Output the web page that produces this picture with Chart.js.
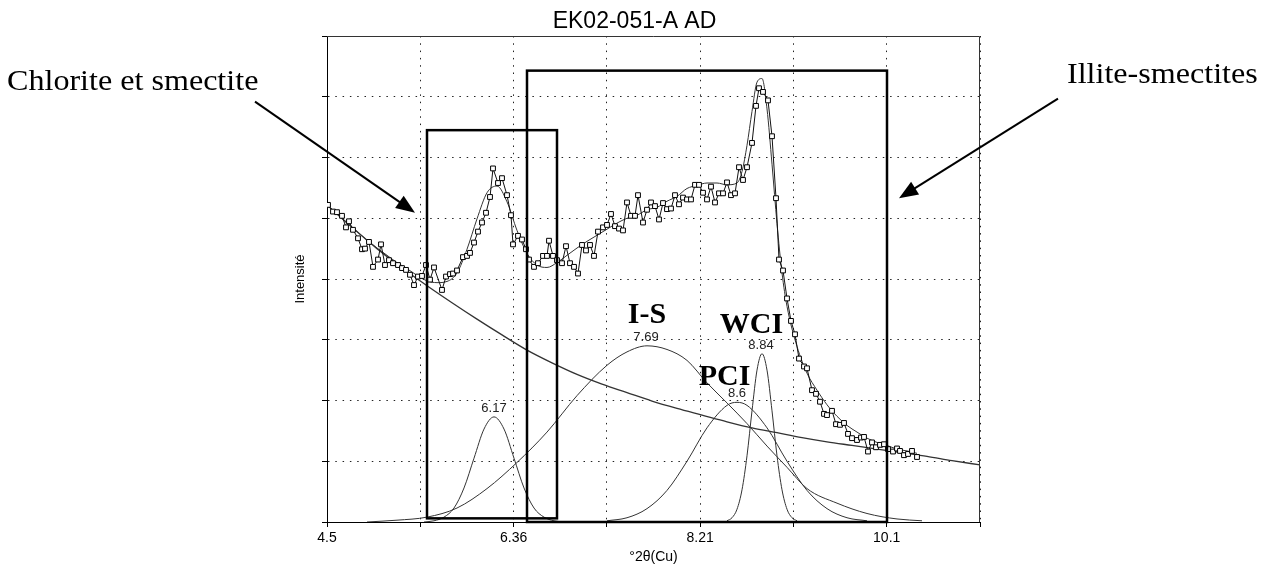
<!DOCTYPE html>
<html>
<head>
<meta charset="utf-8">
<script src="https://cdn.jsdelivr.net/npm/chart.js@4.4.1/dist/chart.umd.min.js"></script>
<style>
  body { margin: 0; background: #fff; }
  canvas { display: block; }
</style>
</head>
<body>
<canvas id="xrdChart" width="1268" height="571"></canvas>
<script>
// ---- axis ticks ----
const xTickValues = [4.5, 5.433, 6.366, 7.299, 8.231, 9.164, 10.097, 11.03];
const xTickLabels = ["4.5", "", "6.36", "", "8.21", "", "10.1", ""];

// ---- measured scan (squares) ----
const scanX = [
    4.51, 4.56, 4.60, 4.65, 4.69, 4.72, 4.76, 4.81, 4.85, 4.88,
    4.92, 4.96, 5.01, 5.04, 5.08, 5.12, 5.16, 5.21, 5.25, 5.29,
    5.33, 5.37, 5.41, 5.45, 5.49, 5.53, 5.57, 5.65, 5.69, 5.73,
    5.76, 5.80, 5.86, 5.90, 5.93, 5.97, 6.01, 6.05, 6.09, 6.13,
    6.16, 6.21, 6.25, 6.30, 6.34, 6.36, 6.41, 6.45, 6.49, 6.52,
    6.57, 6.61, 6.66, 6.70, 6.72, 6.76, 6.80, 6.85, 6.89, 6.93,
    6.97, 7.01, 7.05, 7.09, 7.13, 7.17, 7.21, 7.26, 7.30, 7.34,
    7.38, 7.42, 7.46, 7.50, 7.54, 7.58, 7.61, 7.66, 7.70, 7.74,
    7.78, 7.82, 7.86, 7.90, 7.94, 7.98, 8.02, 8.06, 8.10, 8.14,
    8.18, 8.22, 8.26, 8.30, 8.34, 8.38, 8.42, 8.46, 8.50, 8.54,
    8.58, 8.62, 8.66, 8.70, 8.75, 8.79, 8.82, 8.86, 8.91, 8.95,
    8.99, 9.02, 9.06, 9.10, 9.14, 9.18, 9.22, 9.27, 9.30, 9.35,
    9.39, 9.43, 9.47, 9.50, 9.55, 9.59, 9.63, 9.67, 9.71, 9.75,
    9.80, 9.84, 9.87, 9.91, 9.95, 9.99, 10.03, 10.07, 10.11, 10.16,
    10.20, 10.23, 10.27, 10.31, 10.35, 10.40
];
const scanY = [
    5.22, 5.11, 5.10, 5.04, 4.85, 4.95, 4.81, 4.67, 4.49, 4.50,
    4.61, 4.20, 4.32, 4.57, 4.23, 4.31, 4.26, 4.23, 4.18, 4.15,
    4.07, 3.90, 4.04, 4.05, 4.23, 3.99, 4.19, 3.82, 4.04, 4.08,
    4.09, 4.14, 4.36, 4.38, 4.43, 4.60, 4.78, 4.93, 5.09, 5.35,
    5.82, 5.58, 5.66, 5.38, 5.05, 4.57, 4.71, 4.65, 4.49, 4.32,
    4.20, 4.26, 4.38, 4.38, 4.63, 4.38, 4.31, 4.26, 4.54, 4.26,
    4.20, 4.09, 4.56, 4.47, 4.56, 4.38, 4.78, 4.85, 4.89, 5.07,
    4.87, 4.83, 4.80, 5.26, 5.04, 5.04, 5.38, 4.93, 5.14, 5.26,
    5.20, 4.98, 5.25, 5.15, 5.16, 5.38, 5.23, 5.34, 5.31, 5.31,
    5.55, 5.55, 5.42, 5.31, 5.52, 5.26, 5.41, 5.41, 5.59, 5.38,
    5.41, 5.84, 5.63, 5.84, 6.24, 6.85, 7.14, 7.08, 6.94, 6.35,
    5.33, 4.32, 4.14, 3.68, 3.31, 3.09, 2.69, 2.56, 2.53, 2.17,
    2.11, 1.98, 1.78, 1.76, 1.83, 1.61, 1.60, 1.63, 1.45, 1.38,
    1.35, 1.39, 1.40, 1.16, 1.31, 1.23, 1.27, 1.28, 1.20, 1.16,
    1.21, 1.17, 1.10, 1.12, 1.17, 1.07
];

// ---- fitted envelope ----
const fitX = [
    4.5, 4.6, 4.7, 4.8, 4.9, 5.0, 5.1, 5.2, 5.3, 5.4,
    5.5, 5.6, 5.7, 5.8, 5.9, 6.0, 6.1, 6.2, 6.3, 6.4,
    6.5, 6.6, 6.7, 6.8, 6.9, 7.0, 7.1, 7.2, 7.3, 7.4,
    7.5, 7.6, 7.7, 7.8, 7.9, 8.0, 8.1, 8.2, 8.3, 8.4,
    8.5, 8.6, 8.65, 8.7, 8.75, 8.8, 8.85, 8.9, 8.95, 9.0,
    9.05, 9.1, 9.2, 9.3, 9.4, 9.5, 9.6, 9.7, 9.8, 9.9,
    10.0, 10.1, 10.2, 10.3, 10.4
];
const fitY = [
    5.22, 5.07, 4.93, 4.78, 4.64, 4.51, 4.39, 4.27, 4.17, 4.06,
    3.97, 3.94, 3.96, 4.10, 4.49, 4.99, 5.42, 5.53, 5.27, 4.80,
    4.42, 4.23, 4.19, 4.27, 4.39, 4.51, 4.62, 4.72, 4.82, 4.92,
    5.00, 5.05, 5.14, 5.18, 5.28, 5.36, 5.49, 5.54, 5.58, 5.58,
    5.55, 5.58, 5.77, 6.20, 6.76, 7.24, 7.30, 6.80, 5.89, 4.91,
    4.10, 3.55, 2.89, 2.45, 2.17, 1.93, 1.74, 1.59, 1.48, 1.38,
    1.31, 1.26, 1.20, 1.17, 1.13
];

// ---- background ----
const bgX = [4.5, 4.75, 5.0, 5.25, 5.5, 5.75, 6.0, 6.25, 6.5, 6.75, 7.0, 7.25, 7.5, 7.75,
             8.0, 8.25, 8.5, 8.75, 9.0, 9.25, 9.5, 9.75, 10.0, 10.25, 10.5, 10.75, 11.03];
const bgY = [5.22, 4.85, 4.50, 4.18, 3.89, 3.61, 3.34, 3.08, 2.83, 2.62, 2.43, 2.27, 2.13, 1.99,
             1.87, 1.76, 1.65, 1.55, 1.47, 1.39, 1.32, 1.26, 1.20, 1.14, 1.08, 1.01, 0.94];

// ---- decomposed peaks ----
const chlX = [5.47, 5.57, 5.67, 5.77, 5.87, 5.97, 6.07, 6.17, 6.27, 6.37, 6.47, 6.57, 6.67, 6.77, 6.87];
const chlY = [0.00, 0.02, 0.08, 0.23, 0.56, 1.05, 1.53, 1.73, 1.53, 1.05, 0.56, 0.23, 0.08, 0.02, 0.00];

const isX = [4.9, 5.2, 5.5, 5.8, 6.1, 6.4, 6.7, 7.0, 7.3, 7.5, 7.7, 7.9, 8.1, 8.3, 8.5, 8.7,
             8.9, 9.1, 9.3, 9.6, 9.9, 10.2, 10.45];
const isY = [0.00, 0.03, 0.08, 0.23, 0.55, 0.98, 1.48, 2.08, 2.58, 2.80, 2.90, 2.84, 2.66, 2.29, 1.96, 1.62,
             1.25, 0.90, 0.55, 0.31, 0.14, 0.05, 0.02];

const pciX = [7.3, 7.5, 7.7, 7.9, 8.1, 8.3, 8.5, 8.6, 8.7, 8.9, 9.1, 9.3, 9.5, 9.7, 9.9];
const pciY = [0.02, 0.07, 0.22, 0.52, 1.00, 1.55, 1.92, 1.97, 1.92, 1.55, 1.00, 0.52, 0.22, 0.07, 0.02];

const wciX = [8.5, 8.55, 8.6, 8.65, 8.7, 8.75, 8.8, 8.85, 8.9, 8.95, 9.0, 9.05, 9.1, 9.15, 9.2];
const wciY = [0.02, 0.07, 0.21, 0.53, 1.09, 1.83, 2.50, 2.77, 2.50, 1.83, 1.09, 0.53, 0.21, 0.07, 0.02];

// peak position labels
const peakPos = [6.17, 7.69, 8.6, 8.84];
const peakTop = [1.73, 2.90, 1.97, 2.77];
const peakText = ["6.17", "7.69", "8.6", "8.84"];

const pts = (xs, ys) => xs.map((x, i) => ({ x: x, y: ys[i] }));

function drawArrow(ctx, x0, y0, x1, y1) {
    const a = Math.atan2(y1 - y0, x1 - x0);
    const len = 19, half = 7.5;
    const c = Math.cos(a), s = Math.sin(a);
    ctx.beginPath();
    ctx.moveTo(x0, y0);
    ctx.lineTo(x1 - c * len * 0.7, y1 - s * len * 0.7);
    ctx.stroke();
    ctx.beginPath();
    ctx.moveTo(x1, y1);
    ctx.lineTo(x1 - c * len + s * half, y1 - s * len - c * half);
    ctx.lineTo(x1 - c * len - s * half, y1 - s * len + c * half);
    ctx.closePath();
    ctx.fill();
}

function wideText(ctx, text, x, y, sx) {
    ctx.save();
    ctx.translate(x, y);
    ctx.scale(sx, 1);
    ctx.fillText(text, 0, 0);
    ctx.restore();
}

// boxes, arrows and labels drawn on top of the curves
const annotations = {
    id: "annotations",
    afterDatasetsDraw(chart) {
        const { ctx, chartArea: a, scales: { x, y } } = chart;
        const px = v => x.getPixelForValue(v);
        const py = v => y.getPixelForValue(v);
        ctx.save();

        // top and right frame
        ctx.strokeStyle = "#333";
        ctx.lineWidth = 1;
        ctx.beginPath();
        ctx.moveTo(a.left, a.top + 0.5);
        ctx.lineTo(a.right - 0.5, a.top + 0.5);
        ctx.lineTo(a.right - 0.5, a.bottom);
        ctx.stroke();

        // region boxes
        ctx.strokeStyle = "#000";
        ctx.lineWidth = 2.5;
        [[5.50, 6.80, 0.06, 6.45], [6.50, 10.10, 0, 7.43]].forEach(b => {
            ctx.strokeRect(px(b[0]), py(b[3]), px(b[1]) - px(b[0]), py(b[2]) - py(b[3]));
        });

        // arrows
        ctx.lineWidth = 2;
        ctx.fillStyle = "#000";
        drawArrow(ctx, px(3.78), py(6.92), px(5.38), py(5.09));
        drawArrow(ctx, px(11.81), py(6.97), px(10.22), py(5.33));

        // side captions
        ctx.font = "30px 'Liberation Serif'";
        ctx.textAlign = "left";
        ctx.textBaseline = "alphabetic";
        wideText(ctx, "Chlorite et smectite", px(1.30), py(7.11), 1.07);
        wideText(ctx, "Illite-smectites", px(11.90), py(7.22), 1.07);

        // bold phase names
        ctx.font = "bold 30px 'Liberation Serif'";
        ctx.textAlign = "center";
        ctx.fillText("I-S", px(7.70), py(3.28));
        ctx.fillText("WCI", px(8.745), py(3.11));
        ctx.fillText("PCI", px(8.475), py(2.255));

        // peak positions
        ctx.font = "13px 'Liberation Sans'";
        ctx.textBaseline = "middle";
        ctx.fillStyle = "#222";
        peakPos.forEach((p, i) => {
            ctx.fillText(peakText[i], px(p), py(peakTop[i]) - 8.5);
        });

        ctx.restore();
    }
};

const curve = (data, width) => ({
    data: data,
    borderColor: "#333",
    borderWidth: width,
    pointRadius: 0,
    cubicInterpolationMode: "monotone",
    fill: false
});

Chart.defaults.color = "#000";
Chart.defaults.font.family = "'Liberation Sans', Arial, sans-serif";

new Chart(document.getElementById("xrdChart").getContext("2d"), {
    type: "line",
    data: {
        datasets: [
            {
                data: pts(scanX, scanY),
                borderColor: "#111",
                borderWidth: 1,
                pointStyle: "rect",
                pointRadius: 3.4,
                pointBorderWidth: 1,
                pointBorderColor: "#000",
                pointBackgroundColor: "#fff",
                tension: 0,
                fill: false
            },
            curve(pts(fitX, fitY), 1),
            curve(pts(bgX, bgY), 1.3),
            curve(pts(chlX, chlY), 1),
            curve(pts(isX, isY), 1),
            curve(pts(pciX, pciY), 1),
            curve(pts(wciX, wciY), 1)
        ]
    },
    options: {
        responsive: false,
        animation: false,
        layout: {
            padding: { left: 289, right: 288, top: 0, bottom: 3.6 }
        },
        plugins: {
            legend: { display: false },
            tooltip: { enabled: false },
            title: {
                display: true,
                text: "EK02-051-A AD",
                color: "#000",
                font: { size: 23, weight: "normal", lineHeight: 1.2 },
                padding: { top: 7.5, bottom: 0.9 }
            }
        },
        scales: {
            x: {
                type: "linear",
                min: 4.5,
                max: 11.03,
                afterBuildTicks: s => { s.ticks = xTickValues.map(v => ({ value: v })); },
                afterFit: s => { s.height = 45.4; },
                ticks: {
                    autoSkip: false,
                    maxRotation: 0,
                    padding: 3,
                    color: "#000",
                    font: { size: 14 },
                    callback: (v, i) => xTickLabels[i]
                },
                grid: { color: "#222", tickLength: 5, tickColor: "#000" },
                border: { color: "#000", width: 1, dash: [1.5, 5.8] },
                title: {
                    display: true,
                    text: "°2θ(Cu)",
                    color: "#000",
                    font: { size: 14, lineHeight: 1.2 },
                    padding: { top: 0, bottom: 2 }
                }
            },
            y: {
                min: 0,
                max: 8,
                afterFit: s => { s.width = 38; },
                ticks: { stepSize: 1, display: false },
                grid: { color: "#222", tickLength: 5, tickColor: "#000" },
                border: { color: "#000", width: 1, dash: [1.5, 5.8] },
                title: {
                    display: true,
                    text: "Intensité",
                    color: "#000",
                    font: { size: 13, lineHeight: 1.2 },
                    padding: { top: 4, bottom: 0 }
                }
            }
        }
    },
    plugins: [annotations]
});
</script>
</body>
</html>
